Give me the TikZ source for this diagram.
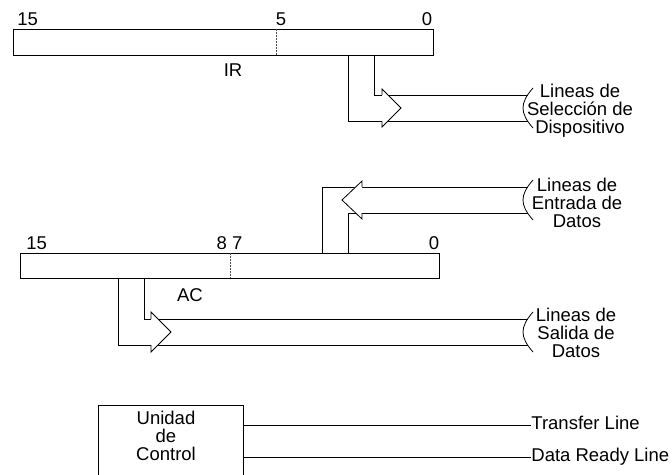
\documentclass[tikz,border=0pt]{standalone}
\usepackage{fontspec}
\setmainfont{Liberation Sans}
\begin{document}
\begin{tikzpicture}[x=1pt,y=-1pt,line width=0.8pt,
  lbl/.style={font=\fontsize{18.5}{18}\selectfont,inner sep=0pt},
  ml/.style={lbl,align=center},
  reg/.style={draw,inner sep=0pt,anchor=north west},
  divider/.style={dash pattern=on 2pt off 1pt,line width=0.6pt,black!70},
  head/.style={draw,fill=white},
  brk/.pic={\draw (5,-20) .. controls (-2,-12) and (-5,-6) .. (-5,0) .. controls (-5,6) and (-2,12) .. (5,20);}]
\useasboundingbox (0,0) rectangle (672,474);

% IR register
\node[reg,minimum width=420pt,minimum height=26pt] (ir) at (13,29) {};
\draw[divider] (276,29) -- (276,55);
\node[lbl,anchor=base west] (ir15) at (17,25) {15};
\node[lbl,anchor=base] (ir5) at (281,25) {5};
\node[lbl,anchor=base] (ir0) at (427,25) {0};
\node[lbl] (irname) at (233,70) {IR};

% IR -> device select lines
\draw (374,55) -- (374,95) -- (528,95);
\draw (348,55) -- (348,121) -- (528,121);
\draw[head] (382,95) -- (382,89) -- (401,108) -- (382,127) -- (382,121);
\pic at (528,108) {brk};
\node[ml] (sel) at (580,111) {Lineas de\\Selección de\\Dispositivo};

% AC register
\node[reg,minimum width=419pt,minimum height=25pt] (ac) at (20,253) {};
\draw[divider] (230,253) -- (230,278);
\node[lbl,anchor=base west] (ac15) at (26,249) {15};
\node[lbl,anchor=base] (ac87) at (229.5,249) {8 7};
\node[lbl,anchor=base] (ac0) at (434,249) {0};
\node[lbl] (acname) at (190,295) {AC};

% input data lines -> AC
\draw (322,253) -- (322,187) -- (528,187);
\draw (348,253) -- (348,213) -- (528,213);
\draw[head] (362,187) -- (362,181) -- (342,200) -- (362,219) -- (362,213);
\pic at (528,200) {brk};
\node[ml] (ent) at (577,203) {Lineas de\\Entrada de\\Datos};

% AC -> output data lines
\draw (118,278) -- (118,345) -- (528,345);
\draw (144,278) -- (144,319) -- (528,319);
\draw[head] (151,319) -- (151,312) -- (171,332) -- (151,352) -- (151,345);
\pic at (528,332) {brk};
\node[ml] (sal) at (576,333) {Lineas de\\Salida de\\Datos};

% control unit
\draw (98,476) -- (98,405) -- (243,405) -- (243,476);
\node[ml] (cu) at (166,436) {Unidad\\de\\Control};
\coordinate (cut) at (243,425);
\coordinate (cud) at (243,457);
\node[lbl,anchor=west] (tl) at (531,423) {Transfer Line};
\node[lbl,anchor=west] (dl) at (531,457) {Data Ready Line};
\draw (cut) -- (tl.west |- cut);
\draw (cud) -- (dl.west |- cud);
\end{tikzpicture}
\end{document}
